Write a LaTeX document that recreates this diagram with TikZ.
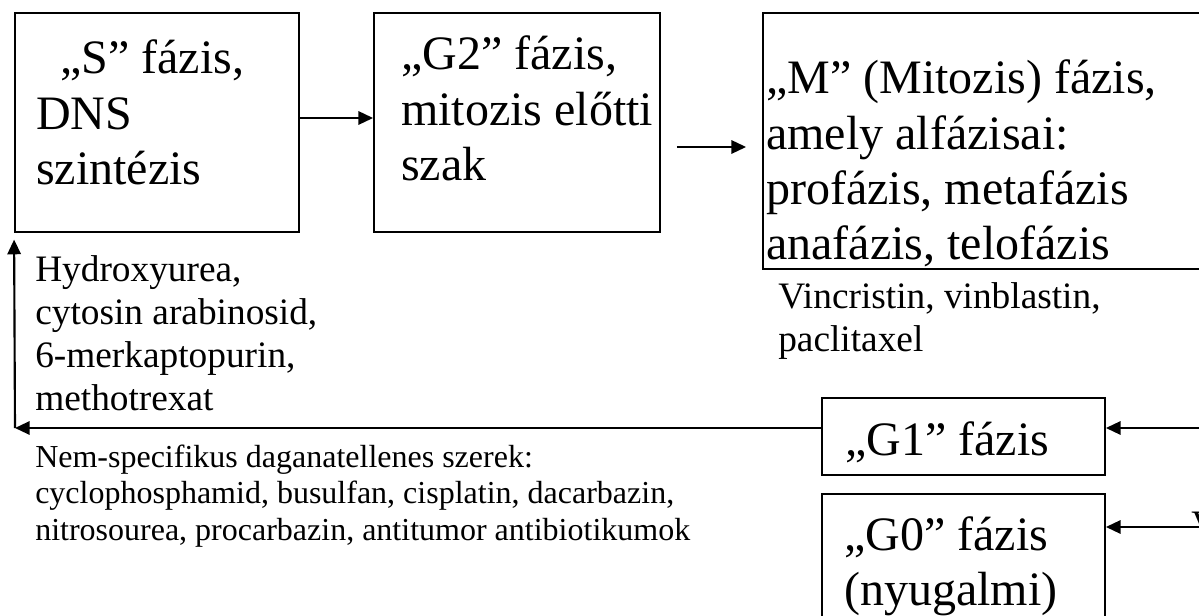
\documentclass[tikz,border=0pt]{standalone}
\usepackage{fontspec}
\setmainfont{Liberation Serif}
\usetikzlibrary{arrows.meta}

\newcommand\phasefont{\fontsize{36}{41.5}\selectfont}
\newcommand\drugfont{\fontsize{28}{32.2}\selectfont}
\newcommand\notefont{\fontsize{24}{27.6}\selectfont}

\tikzset{
  phasebox/.style={draw, line width=1.4pt, inner sep=0pt},
  phasetext/.style={anchor=base west, inner sep=0pt, align=flush left, font=\phasefont},
  drugtext/.style={anchor=base west, inner sep=0pt, align=flush left, font=\drugfont},
  notetext/.style={anchor=base west, inner sep=0pt, align=flush left, font=\notefont},
  conn/.style={line width=1.6pt, -{Triangle[length=11pt,width=10pt]}},
}

\begin{document}
\begin{tikzpicture}[x=0.75pt, y=-0.75pt]
\useasboundingbox (0,0) rectangle (1199,616);
\clip (0,0) rectangle (1199,616);

% phase boxes
\node[phasebox, minimum width=213pt,    minimum height=164.25pt] (S)  at (157,122.5) {};
\node[phasebox, minimum width=214.5pt,  minimum height=164.25pt] (G2) at (517,122.5) {};
\node[phasebox, minimum width=350.25pt, minimum height=192pt]    (M)  at (996.5,141) {};
\node[phasebox, minimum width=212.25pt, minimum height=57.75pt]  (G1) at (963.5,436.5) {};
\node[phasebox, minimum width=212.25pt, minimum height=124.5pt]  (G0) at (963.5,577) {};

% box labels
\node[phasetext, text width=260pt] (St) at (36,74)
  {\hspace*{0.5em}„S” fázis,\\DNS\\szintézis};
\node[phasetext, text width=200pt] (G2t) at (401,70)
  {„G2” fázis,\\mitozis előtti\\szak};
\node[phasetext, text width=330pt] (Mt) at (766,94)
  {„M” (Mitozis) fázis,\\amely alfázisai:\\profázis, metafázis\\anafázis, telofázis};
\node[phasetext] (G1t) at (845,455) {„G1” fázis};
\node[phasetext, text width=200pt] (G0t) at (844,550)
  {„G0” fázis\\(nyugalmi)};

% drug lists
\node[drugtext, text width=300pt] (Sdrug) at (35,282)
  {Hydroxyurea,\\cytosin arabinosid,\\6-merkaptopurin,\\methotrexat};
\node[drugtext, text width=300pt] (Mdrug) at (778,309)
  {Vincristin, vinblastin,\\paclitaxel};
\node[notetext, text width=600pt] (nonspec) at (35,467)
  {Nem-specifikus daganatellenes szerek:\\cyclophosphamid, busulfan, cisplatin, dacarbazin,\\nitrosourea, procarbazin, antitumor antibiotikumok};
\node[drugtext] (cut) at (1191,536) {V};

% connector anchors
\coordinate (a1) at (0,118);
\coordinate (a2) at (0,147);
\coordinate (r1) at (1199,428);
\coordinate (r0) at (1199,527);
\coordinate (corner) at (15,428);

% cycle arrows
\draw[conn] (S.east |- a1) -- (G2.west |- a1);
\draw[conn, shorten <=12pt, shorten >=12pt] (G2.east |- a2) -- (M.west |- a2);
\draw[conn] (r1) -- (G1.east |- r1);
\draw[conn] (r0) -- (G0.east |- r0);
\draw[conn] (G1.west |- corner) -- (corner);
\draw[conn, shorten >=5pt] (corner) -- (S.south west);
\end{tikzpicture}
\end{document}
